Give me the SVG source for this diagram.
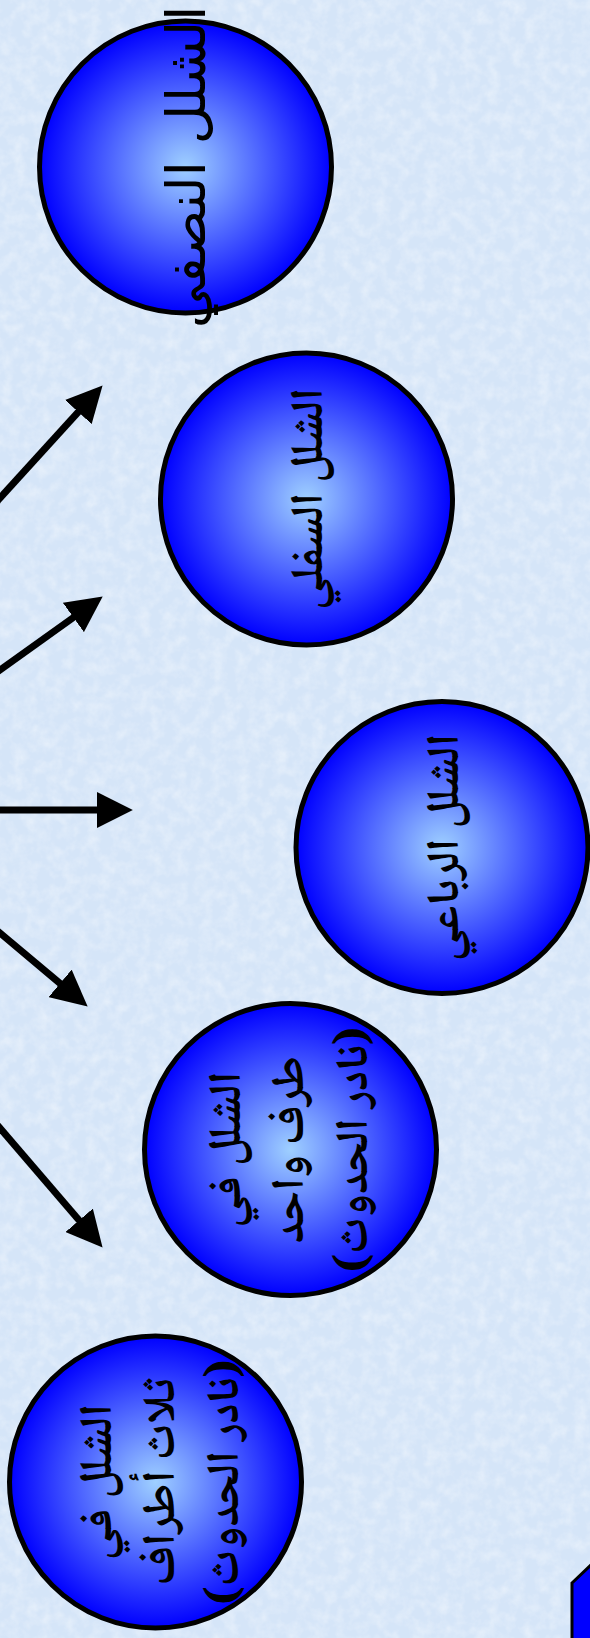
<svg xmlns="http://www.w3.org/2000/svg" width="590" height="1638" viewBox="0 0 590 1638">
  <style>
    .ball { fill: url(#ballGrad); stroke: #000; stroke-width: 5; }
    .conn { stroke: #000; stroke-width: 7; fill: none; marker-end: url(#head); }
    .lbl1 { font-family: "DejaVu Sans", sans-serif; font-size: 54px; fill: #000; }
    .lbl { font-family: "Noto Naskh Arabic", "Amiri", "Noto Serif Arabic", "DejaVu Sans", sans-serif; font-weight: bold; font-size: 46px; fill: #000; }
  </style>
  <defs>
    <radialGradient id="ballGrad" cx="50%" cy="50%" r="50%">
      <stop offset="0" stop-color="#9fd0ff"/>
      <stop offset="1" stop-color="#0000ff"/>
    </radialGradient>
    <marker id="head" markerUnits="userSpaceOnUse" markerWidth="36" markerHeight="36" viewBox="0 0 35 35" refX="5" refY="17.5" orient="auto">
      <path d="M0,0 L35,17.5 L0,35 z" fill="#000"/>
    </marker>
    <filter id="tex" x="0" y="0" width="100%" height="100%">
      <feTurbulence type="fractalNoise" baseFrequency="0.08" numOctaves="3" seed="4"/>
      <feColorMatrix type="matrix" values="0 0 0 0 1  0 0 0 0 1  0 0 0 0 1  0 0 0 1.2 -0.45"/>
    </filter>
  </defs>

  <rect id="background" x="0" y="0" width="590" height="1638" fill="#d5e5f8"/>
  <rect x="0" y="0" width="590" height="1638" filter="url(#tex)" opacity="0.6"/>

  <g id="connectors">
    <line class="conn" x1="-10" y1="509" x2="81.8" y2="408.2"/>
    <line class="conn" x1="-10" y1="677.2" x2="77.6" y2="614.5"/>
    <line class="conn" x1="-10" y1="810" x2="102" y2="810"/>
    <line class="conn" x1="-10" y1="924.6" x2="64" y2="986.7"/>
    <line class="conn" x1="-10" y1="1116.4" x2="82.5" y2="1224.2"/>
  </g>

  <g id="node-half">
    <circle class="ball" cx="185.5" cy="167" r="146"/>
    <g transform="translate(185.5,167) rotate(-90)">
      <text class="lbl1" x="0" y="19.5" text-anchor="middle" direction="rtl">الشلل النصفي</text>
    </g>
  </g>

  <g id="node-lower">
    <circle class="ball" cx="306.5" cy="499" r="146"/>
    <g transform="translate(306.5,499) rotate(-90)">
      <text class="lbl" x="0" y="15" text-anchor="middle" direction="rtl">الشلل السفلي</text>
    </g>
  </g>

  <g id="node-quad">
    <circle class="ball" cx="442" cy="847.5" r="146"/>
    <g transform="translate(442,847.5) rotate(-90)">
      <text class="lbl" x="0" y="16" text-anchor="middle" direction="rtl">الشلل الرباعي</text>
    </g>
  </g>

  <g id="node-mono">
    <circle class="ball" cx="290.5" cy="1149.5" r="146"/>
    <g transform="translate(290.5,1149.5) rotate(-90)">
      <text class="lbl" x="0" y="-51" text-anchor="middle" direction="rtl">الشلل في</text>
      <text class="lbl" x="0" y="12" text-anchor="middle" direction="rtl">طرف واحد</text>
      <text class="lbl" x="0" y="76" text-anchor="middle" direction="rtl">(نادر الحدوث)</text>
    </g>
  </g>

  <g id="node-tri">
    <circle class="ball" cx="155.5" cy="1482" r="146"/>
    <g transform="translate(155.5,1482) rotate(-90)">
      <text class="lbl" x="0" y="-45" text-anchor="middle" direction="rtl">الشلل في</text>
      <text class="lbl" x="0" y="18" text-anchor="middle" direction="rtl">ثلاث أطراف</text>
      <text class="lbl" x="0" y="82" text-anchor="middle" direction="rtl">(نادر الحدوث)</text>
    </g>
  </g>

  <polygon id="corner-shape" points="572,1583 592,1564 592,1640 572,1640" fill="#0000ff" stroke="#000" stroke-width="3"/>
</svg>
